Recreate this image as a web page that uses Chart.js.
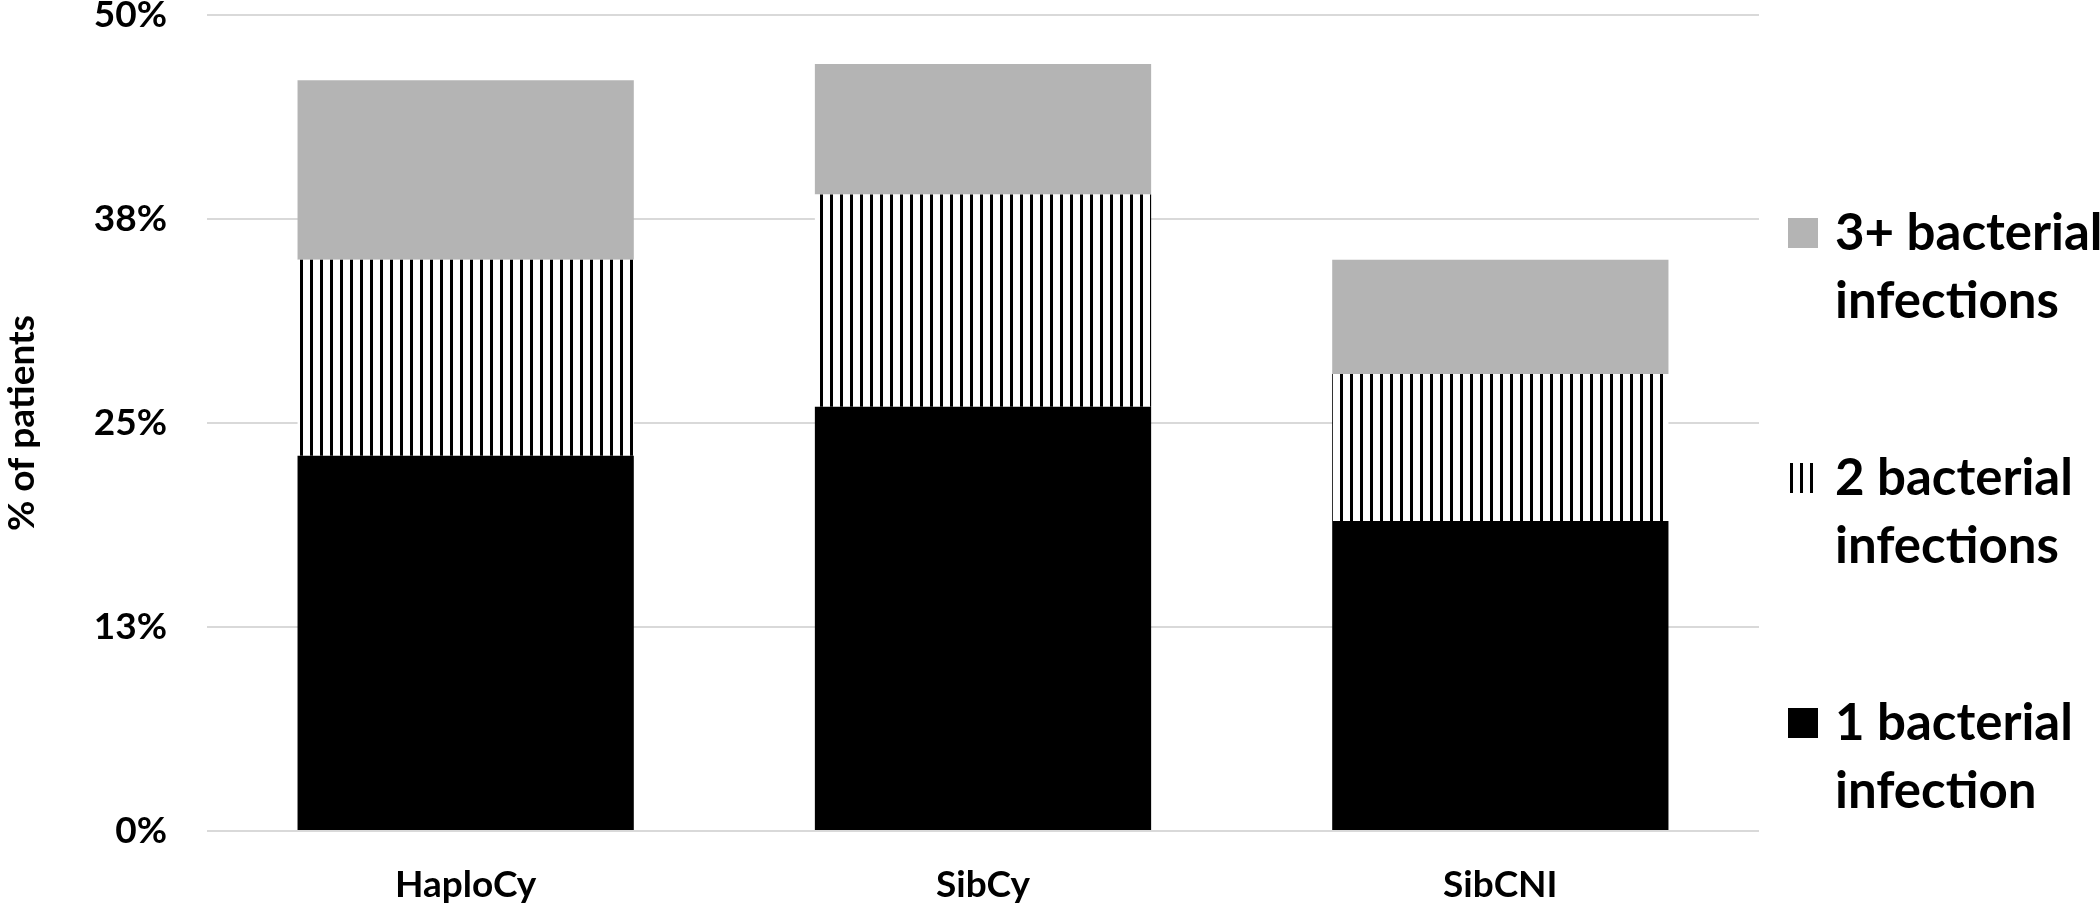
<!DOCTYPE html>
<html>
<head>
<meta charset="utf-8">
<script src="https://cdn.jsdelivr.net/npm/chart.js@4.4.1/dist/chart.umd.min.js"></script>
<style>
    html, body { margin: 0; padding: 0; background: #ffffff; }
    #wrap { width: 2100px; height: 905px; position: relative; }
</style>
</head>
<body>
<div id="wrap"><canvas id="infections-chart"></canvas></div>
<script>
// Données (% de patients)
const groups = ['HaploCy', 'SibCy', 'SibCNI'];
const oneInfection = [23, 26, 19];
const twoInfections = [12, 13, 9];
const threePlusInfections = [11, 8, 7];
const seriesLabels = [
    ['1 bacterial', 'infection'],
    ['2 bacterial', 'infections'],
    ['3+ bacterial', 'infections']
];
const yTicks = [0, 12.5, 25, 37.5, 50];

const FONT = 'Lato, "Open Sans", sans-serif';

/**
 * Motif de rayures verticales (noir sur blanc)
 */
function makeStripePattern() {
    const c = document.createElement('canvas');
    c.width = 10;
    c.height = 10;
    const g = c.getContext('2d');
    g.fillStyle = '#ffffff';
    g.fillRect(0, 0, 10, 10);
    g.fillStyle = '#000000';
    g.fillRect(0, 0, 3, 10);
    return g.createPattern(c, 'repeat');
}

const stripes = makeStripePattern();

/**
 * Légende dessinée à droite, ordre inversé (3+ en haut)
 */
const sideLegend = {
    id: 'sideLegend',
    afterDraw(chart) {
        const ctx = chart.ctx;
        const datasets = chart.data.datasets;
        const boxX = 1788;
        const textX = 1835;
        const firstY = 233;
        const step = 245;
        ctx.save();
        ctx.font = `bold 51px ${FONT}`;
        ctx.textBaseline = 'alphabetic';
        ctx.textAlign = 'left';
        for (let k = 0; k < datasets.length; k++) {
            const ds = datasets[datasets.length - 1 - k];
            const cy = firstY + k * step;
            ctx.fillStyle = ds.backgroundColor;
            ctx.fillRect(boxX, cy - 15, 30, 30);
            ctx.fillStyle = '#000000';
            ds.label.forEach((line, i) => {
                ctx.fillText(line, textX, cy + 17 + i * 68);
            });
        }
        ctx.restore();
    }
};

new Chart(document.getElementById('infections-chart'), {
    type: 'bar',
    data: {
        labels: groups,
        datasets: [
            { label: seriesLabels[0], data: oneInfection, backgroundColor: '#000000' },
            { label: seriesLabels[1], data: twoInfections, backgroundColor: stripes },
            { label: seriesLabels[2], data: threePlusInfections, backgroundColor: '#b4b4b4' }
        ]
    },
    options: {
        responsive: true,
        maintainAspectRatio: false,
        animation: false,
        layout: {
            padding: { top: 15, right: 341, bottom: 0, left: 0 }
        },
        datasets: {
            bar: {
                barPercentage: 0.65,
                categoryPercentage: 1,
                borderWidth: 0
            }
        },
        scales: {
            x: {
                stacked: true,
                grid: { display: false, drawTicks: false },
                border: { display: false },
                ticks: {
                    color: '#000000',
                    padding: 32,
                    font: { family: FONT, size: 37, weight: 'bold' }
                },
                afterFit: (scale) => {
                    scale.height = 74;
                    scale.paddingLeft = 0;
                    scale.paddingRight = 0;
                }
            },
            y: {
                stacked: true,
                min: 0,
                max: 50,
                afterBuildTicks: (scale) => {
                    scale.ticks = yTicks.map(v => ({ value: v }));
                },
                grid: { color: '#d9d9d9', lineWidth: 2, drawTicks: false },
                border: { display: false },
                ticks: {
                    color: '#000000',
                    padding: 40,
                    font: { family: FONT, size: 37, weight: 'bold' },
                    callback: (v) => Math.round(v) + '%'
                },
                title: {
                    display: true,
                    text: '% of patients',
                    color: '#000000',
                    padding: 0,
                    font: { family: FONT, size: 37, weight: 'bold' }
                },
                afterFit: (scale) => {
                    scale.width = 207;
                    scale.paddingTop = 0;
                    scale.paddingBottom = 0;
                }
            }
        },
        plugins: {
            legend: { display: false },
            tooltip: { enabled: false }
        }
    },
    plugins: [sideLegend]
});
</script>
</body>
</html>
